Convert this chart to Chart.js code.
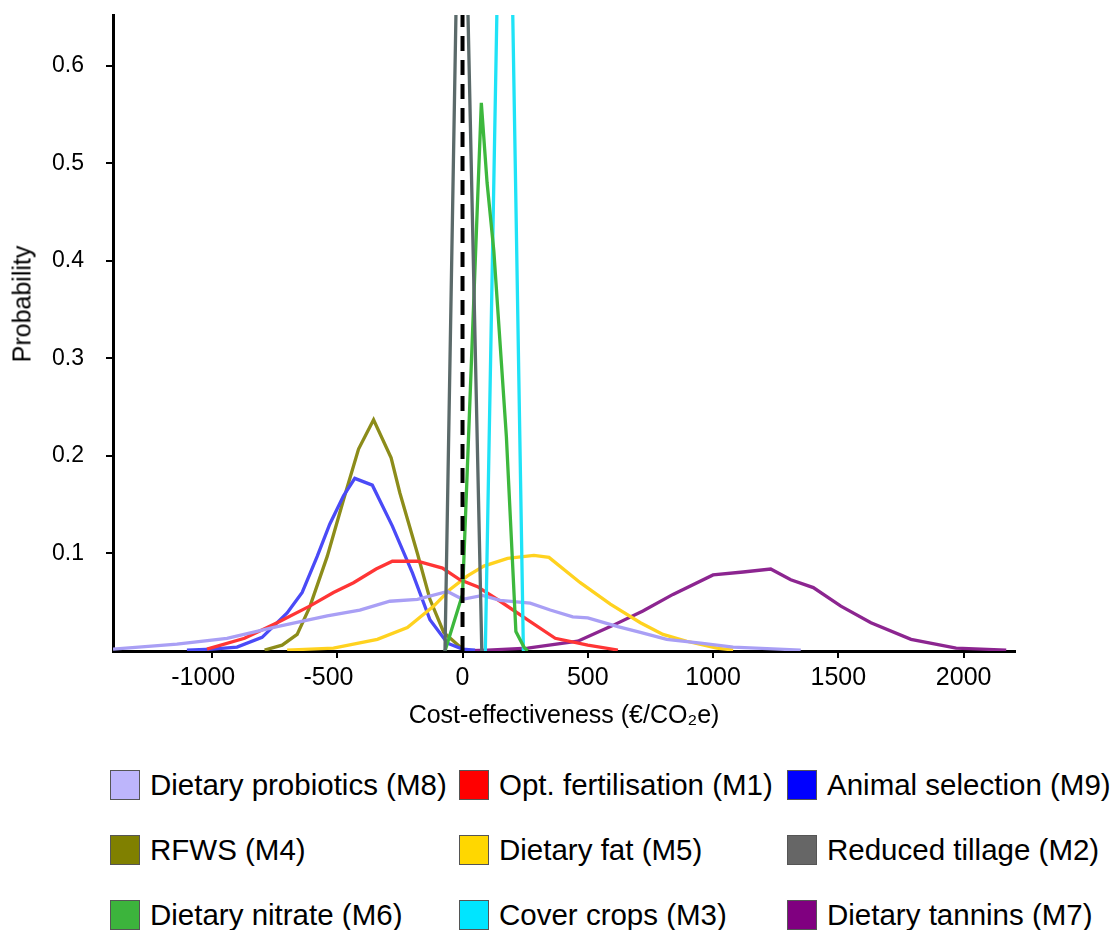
<!DOCTYPE html>
<html>
<head>
<meta charset="utf-8">
<script src="https://cdn.jsdelivr.net/npm/chart.js@4"></script>
<style>
  body { margin:0; background:#fff; font-family:"Liberation Sans", Arial, sans-serif; }
  #wrap { position:relative; width:1114px; height:930px; overflow:hidden; }
  #chart { position:absolute; left:0; top:0; }
  #ytitle { position:absolute; left:22px; top:304px; font-size:25px; color:#000; white-space:nowrap;
            transform:translate(-50%, -50%) rotate(-90deg); }
  .leg { position:absolute; display:flex; align-items:center; height:34px; font-size:29.5px; color:#000; white-space:nowrap; }
  .leg .box { width:30px; height:30px; border:1.5px solid #555; margin-right:10px; box-sizing:border-box; }
</style>
</head>
<body>
<div id="wrap">
  <canvas id="chart" width="1114" height="740"></canvas>
  <div id="ytitle">Probability</div>
  <div id="legend"></div>
</div>
<script>
// --- DATA (x = €/CO2e, y = probability) ---
const probiotics = [[-1395,0.002],[-1140,0.007],[-940,0.013],[-740,0.025],[-540,0.036],[-410,0.042],[-290,0.051],[-180,0.053],[-60,0.061],[0,0.053],[80,0.057],[150,0.052],[270,0.049],[350,0.042],[440,0.035],[500,0.034],[620,0.025],[710,0.019],[815,0.012],[950,0.008],[1080,0.004],[1350,0.001]];
const fertilisation = [[-1020,0.002],[-870,0.013],[-740,0.029],[-610,0.046],[-515,0.060],[-435,0.070],[-345,0.084],[-280,0.092],[-180,0.092],[-80,0.085],[-10,0.073],[60,0.066],[150,0.051],[260,0.032],[370,0.013],[500,0.006],[620,0.001]];
const selection = [[-1100,0.001],[-1000,0.002],[-900,0.004],[-800,0.014],[-700,0.039],[-640,0.060],[-580,0.097],[-530,0.130],[-475,0.159],[-430,0.177],[-360,0.170],[-280,0.128],[-200,0.080],[-130,0.032],[-60,0.008],[0,0.002],[50,0.001]];
const rfws = [[-790,0.001],[-720,0.006],[-660,0.017],[-610,0.045],[-540,0.097],[-475,0.155],[-415,0.207],[-355,0.237],[-285,0.198],[-250,0.162],[-180,0.100],[-130,0.053],[-75,0.019],[0,0.002]];
const fat = [[-700,0.001],[-515,0.003],[-340,0.012],[-220,0.024],[-115,0.046],[-50,0.063],[20,0.077],[85,0.087],[180,0.095],[285,0.098],[345,0.096],[470,0.070],[590,0.048],[710,0.029],[800,0.017],[895,0.010],[1015,0.003],[1080,0.001]];
const tillage = [[-70,0],[-5,0.97],[77,0]];
const nitrate = [[-70,0],[0,0.058],[75,0.562],[98,0.48],[125,0.41],[175,0.22],[213,0.02],[245,0.004],[260,0]];
const coverCrops = [[91,0],[170,1.12],[243,0]];
const tannins = [[0,0],[100,0.001],[260,0.003],[460,0.010],[590,0.025],[720,0.041],[840,0.058],[1000,0.078],[1120,0.081],[1230,0.084],[1310,0.073],[1400,0.065],[1510,0.046],[1630,0.029],[1790,0.012],[1970,0.003],[2170,0.001]];
const zeroLine = [[0,0],[0,0.652]];

const xTicks = [-1000, -500, 0, 500, 1000, 1500, 2000];
const yTicks = [0.1, 0.2, 0.3, 0.4, 0.5, 0.6];

const legendLabels = ["Dietary probiotics (M8)", "Opt. fertilisation (M1)", "Animal selection (M9)",
                      "RFWS (M4)", "Dietary fat (M5)", "Reduced tillage (M2)",
                      "Dietary nitrate (M6)", "Cover crops (M3)", "Dietary tannins (M7)"];
const legendColors = ["#bdb5fb", "#ff0000", "#0000ff", "#808000", "#ffd700", "#666666", "#3cb43c", "#00e5ff", "#800080"];

// --- CHART ---
const pts = arr => arr.map(p => ({x: p[0], y: p[1]}));
const line = (data, color, order) => ({ data: pts(data), borderColor: color, borderWidth: 3.3, pointRadius: 0, tension: 0, fill: false, order });

new Chart(document.getElementById('chart'), {
    type: 'line',
    data: {
        datasets: [
            { data: pts(zeroLine), borderColor: '#000', borderWidth: 4, borderDash: [15, 9], pointRadius: 0, order: 0 },
            line(tillage, '#5b6a6a', 1),
            line(nitrate, '#3db83d', 2),
            line(coverCrops, '#1fe3f7', 3),
            line(probiotics, '#a99ff5', 4),
            line(fertilisation, '#ff3535', 5),
            line(fat, '#ffd21f', 6),
            line(selection, '#4a4af7', 7),
            line(rfws, '#8c8c1a', 8),
            line(tannins, '#8c2590', 9)
        ]
    },
    options: {
        responsive: false,
        animation: false,
        devicePixelRatio: 1,
        layout: { padding: { left: 0, right: 99, top: 15, bottom: 0 } },
        plugins: { legend: { display: false }, tooltip: { enabled: false } },
        scales: {
            x: {
                type: 'linear', min: -1395, max: 2205,
                afterBuildTicks: s => { s.ticks = xTicks.map(v => ({value: v})); },
                afterFit: s => { s.height = 89; },
                border: { color: '#000', width: 3 },
                grid: { drawOnChartArea: false, color: '#000', lineWidth: 2, tickLength: 7 },
                // negative labels sit a little left of their tick in the original
                ticks: { color: '#000', font: { family: 'Liberation Sans', size: 25 }, padding: 5, maxRotation: 0, autoSkip: false,
                         callback: v => v < 0 ? v + '\u2002\u2009' : String(v) },
                title: { display: true, text: 'Cost-effectiveness (€/CO₂e)', color: '#000', font: { family: 'Liberation Sans', size: 25 }, padding: { top: 0, bottom: 9 } }
            },
            y: {
                min: 0, max: 0.652,
                afterBuildTicks: s => { s.ticks = yTicks.map(v => ({value: v})); },
                // fixed axis width; drop the label overhang so the plot starts at the top padding
                afterFit: s => { s.width = 113; s.paddingTop = 0; s.paddingBottom = 0; },
                border: { color: '#000', width: 3 },
                grid: { drawOnChartArea: false, color: '#000', lineWidth: 2, tickLength: 7 },
                ticks: { color: '#000', font: { family: 'Liberation Sans', size: 23 }, padding: 22, callback: v => v.toFixed(1) }
            }
        }
    }
});

// --- LEGEND ---
const legCols = [110, 459, 787];
const legRows = [785, 850, 915];
const legEl = document.getElementById('legend');
legendLabels.forEach((lab, i) => {
    const d = document.createElement('div');
    d.className = 'leg';
    d.style.left = legCols[i % 3] + 'px';
    d.style.top = (legRows[Math.floor(i / 3)] - 17) + 'px';
    d.innerHTML = `<span class="box" style="background:${legendColors[i]}"></span><span>${lab}</span>`;
    legEl.appendChild(d);
});
</script>
</body>
</html>
